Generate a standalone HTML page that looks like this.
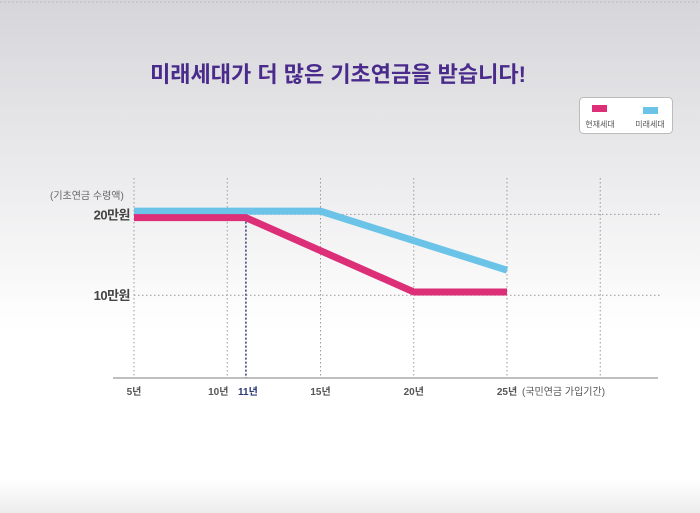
<!DOCTYPE html>
<html><head><meta charset="utf-8"><style>
body{margin:0;width:700px;height:513px;overflow:hidden;font-family:"Liberation Sans","Noto Sans CJK KR",sans-serif;
background:linear-gradient(#d6d6da 0px,#ececee 180px,#ffffff 330px,#ffffff 480px,#ececec 513px);}
</style></head><body>
<svg width="700" height="513" style="position:absolute;left:0;top:0">
<line x1="0" y1="2" x2="700" y2="2" stroke="#bbb" stroke-dasharray="2,2"/>
<text x="338" y="82" text-anchor="middle" font-size="22" font-weight="bold" fill="#4a2b8c">미래세대가 더 많은 기초연금을 받습니다!</text>
<g>
<rect x="579.5" y="97.5" width="93" height="36" rx="4" fill="#fff" stroke="#bbb"/>
<rect x="592" y="105" width="15" height="7" fill="#dc2f78"/>
<text x="600" y="127" text-anchor="middle" font-size="8" fill="#555">현재세대</text>
<rect x="643" y="107" width="15" height="7" fill="#6cc3e8"/>
<text x="650" y="127" text-anchor="middle" font-size="8" fill="#555">미래세대</text>
</g>
<g id="plot"></g>
</svg>
<script>
const xTicks=[5,10,15,20,25,30];
const xTickLabels=["5년","10년","15년","20년","25년",""];
const yTicks=[10,20];
const yTickLabels=["10만원","20만원"];
const currentYears=[5,11,20,25];
const currentValues=[19.6,19.6,10.4,10.4];
const futureYears=[5,15,25];
const futureValues=[20.4,20.4,13.1];
const markerYear=11;
const NS="http://www.w3.org/2000/svg";
const X=v=>134+(v-5)*18.65;
const Y=v=>376-v*8.08;
const g=document.getElementById('plot');
function mk(t,a){const e=document.createElementNS(NS,t);for(const k in a)e.setAttribute(k,a[k]);g.appendChild(e);return e;}
xTicks.forEach((v,i)=>{
 const l=mk('line',{x1:X(v),x2:X(v),y1:178,y2:378,stroke:'#999','stroke-dasharray':'1.5,2.5'});
 
 
 if(xTickLabels[i]){const t=mk('text',{x:X(v)-(v===markerYear-1?9:0),y:395,'text-anchor':'middle','font-size':10,'font-weight':'bold',fill:'#555'});t.textContent=xTickLabels[i];
 
 }
});
yTicks.forEach((v,i)=>{
 const l=mk('line',{x1:X(5),x2:660,y1:Y(v),y2:Y(v),stroke:'#999','stroke-dasharray':'1.5,2.5'});
 
 
 const t=mk('text',{x:130,y:Y(v)+5,'text-anchor':'end','font-size':13,'font-weight':'bold',fill:'#444','letter-spacing':'-0.5'});t.textContent=yTickLabels[i];
 
 
});
let e=mk('text',{x:50,y:199,'font-size':10,fill:'#666'});e.textContent='(기초연금 수령액)';


e=mk('text',{x:522,y:395,'font-size':10,fill:'#555'});e.textContent='(국민연금 가입기간)';


e=mk('line',{x1:113,x2:658,y1:378,y2:378,stroke:'#aaa','stroke-width':1.5});


e=mk('line',{x1:X(markerYear),x2:X(markerYear),y1:Y(currentValues[1]),y2:378,stroke:'#2a3a7a','stroke-width':1.5,'stroke-dasharray':'2,2'});


e=mk('text',{x:X(markerYear)+2,y:395,'text-anchor':'middle','font-size':10,'font-weight':'bold',fill:'#2a3a7a'});e.textContent='11년';


e=mk('polyline',{points:futureYears.map((v,i)=>X(v)+','+Y(futureValues[i])).join(' '),fill:'none',stroke:'#6cc3e8','stroke-width':7});


e=mk('polyline',{points:currentYears.map((v,i)=>X(v)+','+Y(currentValues[i])).join(' '),fill:'none',stroke:'#dc2f78','stroke-width':7});


</script>
</body></html>
